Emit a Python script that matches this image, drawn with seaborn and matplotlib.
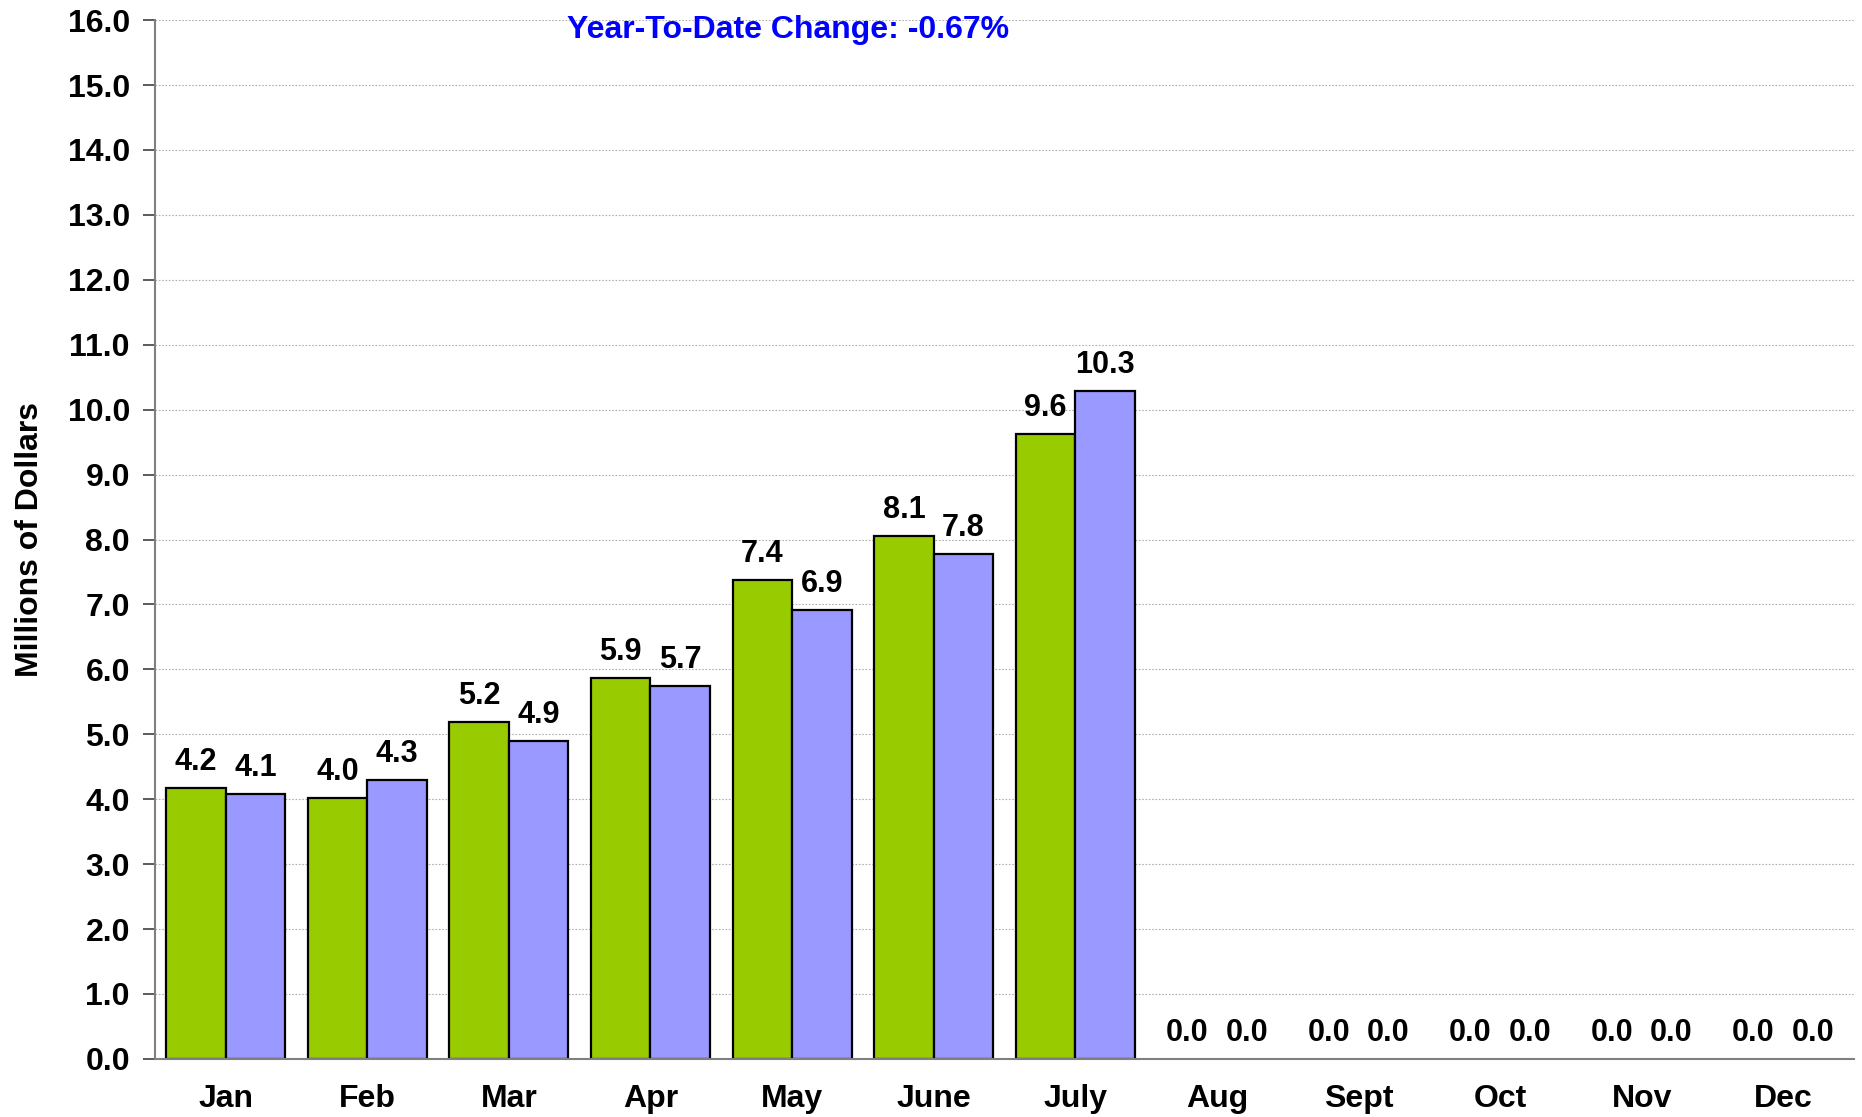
#!/usr/bin/env python3
"""Monthly revenue comparison bar chart."""

import matplotlib
matplotlib.use('Agg')
import matplotlib.pyplot as plt
import numpy as np
import pandas as pd
import seaborn as sns

# Data
months = ['Jan', 'Feb', 'Mar', 'Apr', 'May', 'June', 'July',
          'Aug', 'Sept', 'Oct', 'Nov', 'Dec']
prior_year = [4.17, 4.02, 5.19, 5.87, 7.37, 8.05, 9.63, 0, 0, 0, 0, 0]
current_year = [4.08, 4.30, 4.90, 5.74, 6.91, 7.78, 10.29, 0, 0, 0, 0, 0]
series_names = ['Prior Year', 'Current Year']
series_colors = ['#99CC00', '#9999FF']
ytd_text = 'Year-To-Date Change: -0.67%'

df = pd.DataFrame({
    'Month': months * 2,
    'Value': prior_year + current_year,
    'Series': [series_names[0]] * len(months) + [series_names[1]] * len(months),
})

sns.set_style('white')
plt.rcParams['font.family'] = ['Liberation Sans', 'DejaVu Sans']
plt.rcParams['font.weight'] = 'bold'
plt.rcParams['text.color'] = 'black'
plt.rcParams['axes.labelcolor'] = 'black'
plt.rcParams['xtick.color'] = 'black'
plt.rcParams['ytick.color'] = 'black'

fig = plt.figure(figsize=(18.62, 11.17), dpi=100)
ax = fig.add_axes([0.0832, 0.052, 0.9125, 0.930])

sns.barplot(data=df, x='Month', y='Value', hue='Series', order=months,
            hue_order=series_names, palette=series_colors, width=0.84,
            edgecolor='black', linewidth=1.6, saturation=1, legend=False,
            errorbar=None, ax=ax)

# hide outlines of empty (zero) bars
for p in ax.patches:
    if p.get_height() == 0:
        p.set_linewidth(0)

for cont in ax.containers:
    ax.bar_label(cont, fmt='%.1f', padding=8, fontsize=22, fontweight='bold')

# Axes styling
ax.set_ylim(0, 16)
ax.set_xlim(-0.5, 11.5)
ax.set_yticks(np.arange(0, 16.1, 1))
ax.set_yticklabels([f'{v:.1f}' for v in np.arange(0, 16.1, 1)],
                   fontsize=23, fontweight='bold')
ax.yaxis.grid(True, linestyle=(0, (1.5, 1.5)), color='#b0b0b0', linewidth=0.8)
ax.set_axisbelow(True)

ax.set_xticks(np.arange(12))
ax.set_xticklabels(months, fontsize=23, fontweight='bold')
ax.set_xticks(np.arange(-0.5, 12, 1), minor=True)
ax.tick_params(axis='x', which='major', length=0, pad=18)
ax.tick_params(axis='x', which='minor', length=9, width=1.2, color='#404040')
ax.tick_params(axis='y', which='major', length=9, width=1.2, color='#404040',
               left=True, pad=9)

for side in ['top', 'right']:
    ax.spines[side].set_visible(False)
for side in ['left', 'bottom']:
    ax.spines[side].set_color('#808080')
    ax.spines[side].set_linewidth(1.5)

ax.set_xlabel('')
ax.set_ylabel('Millions of Dollars', fontsize=23, fontweight='bold', labelpad=16)

fig.text(0.423, 0.973, ytd_text, color='#0000FF', fontsize=23,
         fontweight='bold', ha='center', va='center')

plt.savefig('out.png', dpi=100)
plt.close()
